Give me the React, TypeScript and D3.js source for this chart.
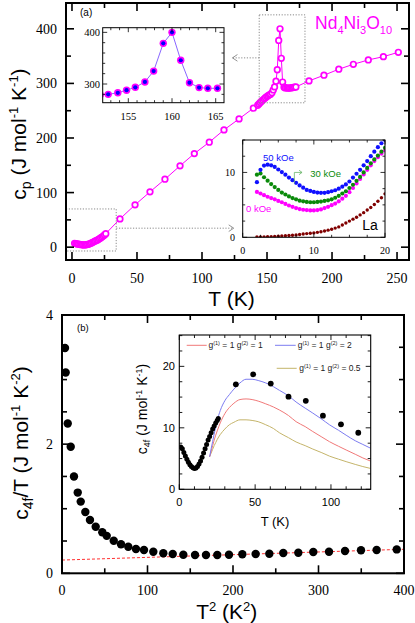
import React from 'react';
import * as d3 from 'd3';

const SANS = "'Liberation Sans', Arial, Helvetica, sans-serif";
const SERIF = "'Liberation Serif', 'Times New Roman', serif";
const MAG = '#ff00ff';

// ---- panel (a): cp of Nd4Ni3O10 (open circles) ----
const lowT = [2, 3, 4, 5, 6, 7, 8, 9, 10, 11, 12, 13, 14, 15, 16, 17, 18, 19, 20, 21, 22, 23, 24, 25, 26];
const lowCp = [7.0, 6.5, 6.0, 5.5, 5.0, 4.6, 4.3, 4.2, 4.2, 4.5, 5.0, 5.6, 6.5, 7.6, 8.8, 10.2, 11.5, 12.6, 13.6, 15.2, 16.8, 18.5, 20.4, 22.5, 24.8];
const stepT = [36.9, 48.5, 60, 71.5, 83.1, 94.1, 105.6, 116.9, 128.5, 139.5];
const stepCp = [51.8, 77.5, 101.3, 124.5, 149, 171.4, 192.3, 214.8, 235, 254.6];
const bandT = [142.8, 143.8, 144.8, 145.8, 146.8, 147.8, 148.8, 149.8, 150.8, 151.8];
const bandCp = [260, 262.5, 265, 267.3, 269.5, 271.7, 273.8, 275.8, 277.6, 279];
const peakT = [152.7, 153.8, 154.8, 155.8, 156.9, 157.9, 159, 160, 161, 162, 163.1, 164.1, 165.2];
const peakCp = [280, 283, 288, 293.6, 304, 325, 378.7, 400, 346, 302.5, 293, 291.7, 291.7];
const tailT = [166.2, 167.2, 168.2, 169.2, 170.2, 171.2, 172.2];
const tailCp = [291.5, 291.5, 291.8, 292.2, 292.6, 293, 293.5];
const highT = [182.3, 193.8, 205.2, 216.4, 227.9, 239.5, 251];
const highCp = [304.6, 315, 326, 335, 343, 349, 357];

const mainT = [...lowT, ...stepT, ...bandT, ...peakT, ...tailT, ...highT];
const mainCp = [...lowCp, ...stepCp, ...bandCp, ...peakCp, ...tailCp, ...highCp];

// ---- inset: low-T fields ----
const fieldT = [2, 2.5, 3, 3.5, 4, 4.5, 5, 5.5, 6, 6.5, 7, 7.5, 8, 8.5, 9, 9.5, 10, 10.5, 11, 11.5, 12, 12.5, 13, 13.5, 14, 14.5, 15, 15.5, 16, 16.5, 17, 17.5, 18, 18.5, 19, 19.5, 20];
const cp0kOe = [7.0, 6.75, 6.5, 6.25, 6.05, 5.85, 5.6, 5.4, 5.15, 4.9, 4.7, 4.5, 4.35, 4.25, 4.2, 4.15, 4.15, 4.2, 4.3, 4.5, 4.7, 4.95, 5.2, 5.55, 5.95, 6.4, 6.95, 7.6, 8.3, 9.0, 9.7, 10.4, 11.1, 11.75, 12.35, 12.9, 13.4];
const cp30kOe = [9.65, 9.85, 9.26, 8.73, 8.2, 7.75, 7.3, 6.9, 6.6, 6.3, 6.05, 5.85, 5.65, 5.55, 5.45, 5.4, 5.4, 5.45, 5.5, 5.6, 5.7, 5.85, 6.1, 6.4, 6.75, 7.1, 7.6, 8.1, 8.7, 9.3, 10.0, 10.7, 11.4, 12.0, 12.6, 13.2, 13.8];
const cp50kOe = [8.5, 10.4, 11.05, 11.2, 11.1, 10.85, 10.45, 10.05, 9.65, 9.2, 8.8, 8.4, 8.0, 7.65, 7.3, 7.15, 7.0, 6.9, 6.85, 6.85, 6.95, 7.1, 7.25, 7.5, 7.8, 8.15, 8.6, 9.2, 9.8, 10.4, 11.1, 11.75, 12.5, 13.2, 13.9, 14.5, 15.0];
const cpLa = [0.05, 0.06, 0.07, 0.09, 0.11, 0.13, 0.16, 0.19, 0.23, 0.27, 0.32, 0.37, 0.43, 0.5, 0.57, 0.62, 0.68, 0.76, 0.86, 0.97, 1.1, 1.25, 1.42, 1.6, 1.9, 2.2, 2.5, 2.8, 3.1, 3.45, 3.8, 4.2, 4.6, 5.05, 5.55, 6.1, 6.7];

// ---- panel (b): c4f/T vs T^2 ----
const t2 = [3.5, 4.3, 6.7, 10.2, 14, 18.4, 21.9, 27.3, 32.7, 39.4, 47.1, 52.3, 60.5, 69, 77.5, 86.5, 95.9, 106.8, 118.5, 129.5, 141.9, 155.6, 168.4, 181.6, 195.3, 210.9, 226.5, 242.5, 258.8, 276.4, 293.9, 312.3, 331, 349.7, 368, 391.5];
const c4fT = [3.49, 3.11, 2.32, 1.96, 1.5, 1.25, 1.11, 0.95, 0.825, 0.72, 0.635, 0.58, 0.505, 0.45, 0.41, 0.376, 0.36, 0.334, 0.31, 0.3, 0.288, 0.283, 0.283, 0.283, 0.288, 0.294, 0.3, 0.303, 0.314, 0.319, 0.33, 0.334, 0.345, 0.356, 0.36, 0.37];
const fitT2 = [0, 400];
const fitVal = [0.205, 0.372];

// ---- inset (b): c4f vs T ----
const denseT = [1, 2, 3, 4, 5, 6, 7, 8, 9, 10, 11, 12, 13, 14, 15, 16, 17, 18, 19, 20, 21, 22, 23, 24, 25, 25.7];
const denseC = [6.9, 6.6, 6.0, 5.4, 4.9, 4.4, 4.0, 3.7, 3.5, 3.4, 3.45, 3.7, 4.1, 4.6, 5.2, 5.9, 6.6, 7.3, 8.0, 8.6, 9.2, 9.8, 10.3, 10.8, 11.2, 11.5];
const sparseT = [37.3, 48.7, 60.3, 72, 83.4, 94.7, 106.6, 118];
const sparseC = [17.07, 18.7, 17.2, 15.06, 14.4, 11.97, 10.57, 9.2];
const modelT = [20, 21, 22, 23, 24, 25, 27, 30, 33, 36, 40, 44, 48, 52, 57, 62, 66, 72, 77, 83, 88, 94, 99, 105, 110, 116, 121, 126];
const model11 = [5.3, 6.2, 7.1, 8.0, 8.8, 9.5, 10.8, 12.3, 13.3, 14.0, 14.6, 14.7, 14.6, 14.35, 13.9, 13.4, 12.9, 12.0, 11.0, 10.2, 9.4, 8.5, 7.75, 7.0, 6.4, 5.7, 5.1, 4.6];
const model12 = [5.3, 6.6, 7.8, 9.0, 10.2, 11.2, 12.8, 14.4, 15.4, 16.3, 17.3, 17.9, 17.9, 17.7, 17.3, 16.7, 16.1, 15.2, 14.2, 13.2, 12.4, 11.4, 10.5, 9.6, 8.8, 7.9, 7.3, 6.7];
const model105 = [5.3, 5.9, 6.5, 7.1, 7.6, 8.1, 8.9, 9.8, 10.5, 10.9, 11.3, 11.3, 11.2, 11.0, 10.5, 9.9, 9.2, 8.4, 7.7, 7.1, 6.55, 5.95, 5.4, 4.9, 4.5, 4.05, 3.7, 3.4];

// tick labels
const aXLabels = [0, 50, 100, 150, 200, 250];
const aYLabels = [0, 100, 200, 300, 400];
const in1XLabels = [155, 160, 165];
const in1YLabels = [300, 400];
const in2XLabels = [0, 10, 20];
const in2YLabels = [0, 10];
const bXLabels = [0, 100, 200, 300, 400];
const bYLabels = [0, 2, 4];
const inbXLabels = [0, 50, 100];
const inbYLabels = [0, 10, 20];

type Sc = d3.ScaleLinear<number, number>;

function Frame({ x, y, xv, yv, xMaj, yMaj, big, small, w, fw }: {
  x: Sc; y: Sc; xv: number[]; yv: number[];
  xMaj: (v: number) => boolean; yMaj: (v: number) => boolean;
  big: number; small: number; w: number; fw: number;
}) {
  const [l, r] = x.range();
  const [b, t] = y.range();
  const els: JSX.Element[] = [];
  xv.forEach((v, i) => {
    const p = x(v);
    const L = xMaj(v) ? big : small;
    els.push(<line key={'xb' + i} x1={p} x2={p} y1={b} y2={b - L} />);
    els.push(<line key={'xt' + i} x1={p} x2={p} y1={t} y2={t + L} />);
  });
  yv.forEach((v, i) => {
    const p = y(v);
    const L = yMaj(v) ? big : small;
    els.push(<line key={'yl' + i} x1={l} x2={l + L} y1={p} y2={p} />);
    els.push(<line key={'yr' + i} x1={r} x2={r - L} y1={p} y2={p} />);
  });
  return (
    <g stroke="#000">
      <g strokeWidth={w}>{els}</g>
      <rect x={l} y={t} width={r - l} height={b - t} fill="none" strokeWidth={fw} />
    </g>
  );
}

function clipRect(id: string, x: Sc, y: Sc) {
  const [l, r] = x.range();
  const [b, t] = y.range();
  return (
    <clipPath id={id}>
      <rect x={l} y={t} width={r - l} height={b - t} />
    </clipPath>
  );
}

export default function App() {
  // panel (a)
  const xA = d3.scaleLinear().domain([-4.6, 259.2]).range([66, 409]);
  const yA = d3.scaleLinear().domain([-23.5, 447.3]).range([260, 3]);
  const xI1 = d3.scaleLinear().domain([152.07, 165.95]).range([102.7, 224]);
  const yI1 = d3.scaleLinear().domain([263.8, 409]).range([102.7, 27.7]);
  const xI2 = d3.scaleLinear().domain([0, 20]).range([242.7, 385]);
  const yI2 = d3.scaleLinear().domain([0, 15]).range([237.3, 140]);
  // panel (b)
  const xB = d3.scaleLinear().domain([0, 400]).range([62, 404]);
  const yB = d3.scaleLinear().domain([0, 4]).range([573.3, 315]);
  const xIb = d3.scaleLinear().domain([0, 126.2]).range([179.3, 370.7]);
  const yIb = d3.scaleLinear().domain([0, 25.1]).range([489.3, 335]);

  const mainPts = mainT.map((t, i) => [t, mainCp[i]] as [number, number]);
  const lineA = d3.line<[number, number]>().x(d => xA(d[0])).y(d => yA(d[1]));
  const inPts = mainPts.filter(d => d[0] > 151 && d[0] < 166);
  const lineI1 = d3.line<[number, number]>().x(d => xI1(d[0])).y(d => yI1(d[1]));

  const fieldSeries = [
    { v: cp0kOe, c: MAG, r: 2.1 },
    { v: cp30kOe, c: '#0a8a0a', r: 2.1 },
    { v: cp50kOe, c: '#1010ff', r: 2.1 },
  ];

  const lineB = d3.line<number>().x((d, i) => xB(fitT2[i])).y(d => yB(d));
  const modelLine = (vals: number[]) =>
    d3.line<number>().x((d, i) => xIb(modelT[i])).y(d => yIb(d)).curve(d3.curveMonotoneX)(vals) || '';

  const dotted = { stroke: '#8a8a8a', strokeWidth: 1, strokeDasharray: '1.2,1.6', fill: 'none' };

  return (
    <svg width={415} height={623} style={{ position: 'absolute', left: 0, top: 0, background: '#fff' }}>
      <defs>
        {clipRect('cA', xA, yA)}
        {clipRect('cI1', xI1, yI1)}
        {clipRect('cI2', xI2, yI2)}
        {clipRect('cB', xB, yB)}
        {clipRect('cIb', xIb, yIb)}
      </defs>

      {/* ===== panel (a) ===== */}
      <g clipPath="url(#cA)">
        <path d={lineA(mainPts) || ''} fill="none" stroke={MAG} strokeWidth={1} />
        {mainPts.map((d, i) => (
          <circle key={i} cx={xA(d[0])} cy={yA(d[1])} r={2.8} fill="#fff" stroke={MAG} strokeWidth={1.7} />
        ))}
      </g>
      {/* dotted boxes and arrows */}
      <rect x={xA(-4.6)} y={yA(70)} width={xA(34) - xA(-4.6)} height={yA(-7) - yA(70)} {...dotted} />
      <line x1={xA(34)} x2={xA(124.4)} y1={yA(34.8)} y2={yA(34.8)} {...dotted} />
      <polyline points={`${xA(124.4) - 5},${yA(34.8) - 3.3} ${xA(124.4)},${yA(34.8)} ${xA(124.4) - 5},${yA(34.8) + 3.3}`} fill="none" stroke="#777" strokeWidth={0.8} />
      <rect x={xA(144)} y={yA(425.6)} width={xA(179.2) - xA(144)} height={yA(264.5) - yA(425.6)} {...dotted} />
      <line x1={xA(144)} x2={xA(123.4)} y1={yA(346.8)} y2={yA(346.8)} {...dotted} />
      <polyline points={`${xA(123.4) + 5},${yA(346.8) - 3.3} ${xA(123.4)},${yA(346.8)} ${xA(123.4) + 5},${yA(346.8) + 3.3}`} fill="none" stroke="#777" strokeWidth={0.8} />

      <Frame x={xA} y={yA} xv={d3.range(0, 251, 25)} yv={d3.range(0, 401, 50)}
        xMaj={v => v % 50 === 0} yMaj={v => v % 100 === 0} big={8} small={5} w={1.6} fw={2} />
      <g fontFamily={SERIF} fontSize={14} fill="#000">
        {aXLabels.map(v => <text key={v} x={xA(v)} y={283} textAnchor="middle">{v}</text>)}
        {aYLabels.map(v => <text key={v} x={57} y={yA(v) + 5} textAnchor="end">{v}</text>)}
      </g>
      <text x={80} y={16} fontFamily={SANS} fontSize={10}>(a)</text>
      <text x={315} y={29} fontFamily={SANS} fontSize={17.5} fill={MAG}>
        Nd<tspan fontSize={11} dy={5}>4</tspan><tspan dy={-5}>Ni</tspan><tspan fontSize={11} dy={5}>3</tspan><tspan dy={-5}>O</tspan><tspan fontSize={11} dy={5}>10</tspan>
      </text>
      <text x={231.5} y={306} fontFamily={SANS} fontSize={21} textAnchor="middle">T (K)</text>
      <text transform="translate(26,134) rotate(-90)" fontFamily={SANS} fontSize={21} textAnchor="middle">
        c<tspan fontSize={14} dy={5}>p</tspan><tspan dy={-5}> (J mol</tspan><tspan fontSize={13} dy={-8}>-1</tspan><tspan dy={8}> K</tspan><tspan fontSize={13} dy={-8}>-1</tspan><tspan dy={8}>)</tspan>
      </text>

      {/* inset 1: peak */}
      <rect x={102.7} y={27.7} width={121.3} height={75} fill="#fff" />
      <g clipPath="url(#cI1)">
        <path d={lineI1(inPts) || ''} fill="none" stroke="#8866ff" strokeWidth={1} />
        {inPts.map((d, i) => (
          <g key={i}>
            <circle cx={xI1(d[0])} cy={yI1(d[1])} r={3.7} fill={MAG} />
            <circle cx={xI1(d[0])} cy={yI1(d[1])} r={2.1} fill="#0000ff" />
          </g>
        ))}
      </g>
      <Frame x={xI1} y={yI1} xv={d3.range(153, 166, 1)} yv={d3.range(280, 401, 20)}
        xMaj={v => v % 5 === 0} yMaj={v => v % 100 === 0} big={4.5} small={2.5} w={0.8} fw={1} />
      <g fontFamily={SERIF} fontSize={10.5} fill="#000">
        {in1XLabels.map(v => <text key={v} x={xI1(v)} y={119.5} textAnchor="middle">{v}</text>)}
        {in1YLabels.map(v => <text key={v} x={100} y={yI1(v) + 3.6} textAnchor="end">{v}</text>)}
      </g>

      {/* inset 2: low-T fields */}
      <rect x={242.7} y={140} width={142.3} height={97.3} fill="#fff" />
      <g clipPath="url(#cI2)">
        {fieldT.map((t, i) => (
          <circle key={'la' + i} cx={xI2(t)} cy={yI2(cpLa[i])} r={1.7} fill="#800000" />
        ))}
        {fieldSeries.map((s, k) => (
          <g key={k}>
            {fieldT.map((t, i) => (
              <circle key={i} cx={xI2(t)} cy={yI2(s.v[i])} r={s.r} fill={s.c} />
            ))}
          </g>
        ))}
      </g>
      <Frame x={xI2} y={yI2} xv={d3.range(0, 20.01, 2.5)} yv={d3.range(0, 15.01, 2.5)}
        xMaj={v => v % 10 === 0} yMaj={v => v % 10 === 0} big={4.5} small={2.5} w={0.8} fw={1} />
      <g fontFamily={SERIF} fontSize={10} fill="#000">
        {in2XLabels.map(v => <text key={v} x={xI2(v)} y={253.5} textAnchor="middle">{v}</text>)}
        {in2YLabels.map(v => <text key={v} x={235} y={yI2(v) + 3.5} textAnchor="end">{v}</text>)}
      </g>
      <polyline points={`${xI2(7.26)},${yI2(8.3)} ${xI2(7.26)},${yI2(10)} ${xI2(8.34)},${yI2(10)}`} fill="none" stroke="#6ab56a" strokeWidth={0.8} />
      <polyline points={`${xI2(8.34) - 3},${yI2(10) - 2.2} ${xI2(8.34)},${yI2(10)} ${xI2(8.34) - 3},${yI2(10) + 2.2}`} fill="none" stroke="#6ab56a" strokeWidth={0.8} />
      <g fontFamily={SANS} fontSize={9.5}>
        <text x={xI2(2.86)} y={yI2(11.76)} fill="#1010ff">50 kOe</text>
        <text x={xI2(9.5)} y={yI2(9.3)} fill="#0a8a0a">30 kOe</text>
        <text x={xI2(0.46)} y={yI2(3.9)} fill={MAG}>0 kOe</text>
      </g>
      <text x={xI2(16.8)} y={yI2(1.1)} fontFamily={SANS} fontSize={14} fill="#000">La</text>

      {/* ===== panel (b) ===== */}
      <g clipPath="url(#cB)">
        <path d={lineB(fitVal) || ''} fill="none" stroke="#ff3030" strokeWidth={1} strokeDasharray="3,2" />
        {t2.map((t, i) => (
          <circle key={i} cx={xB(t)} cy={yB(c4fT[i])} r={4.2} fill="#000" />
        ))}
      </g>
      <Frame x={xB} y={yB} xv={d3.range(0, 401, 50)} yv={d3.range(0, 4.01, 0.5)}
        xMaj={v => v % 100 === 0} yMaj={v => Math.abs(v % 2) < 1e-9} big={8} small={5} w={1.6} fw={2} />
      <g fontFamily={SERIF} fontSize={14} fill="#000">
        {bXLabels.map(v => <text key={v} x={xB(v)} y={595} textAnchor="middle">{v}</text>)}
        {bYLabels.map(v => <text key={v} x={53} y={yB(v) + 5} textAnchor="end">{v}</text>)}
      </g>
      <text x={77} y={331} fontFamily={SANS} fontSize={9.5}>(b)</text>
      <text x={226.7} y={619} fontFamily={SANS} fontSize={21} textAnchor="middle">
        T<tspan fontSize={13} dy={-8}>2</tspan><tspan dy={8}> (K</tspan><tspan fontSize={13} dy={-8}>2</tspan><tspan dy={8}>)</tspan>
      </text>
      <text transform="translate(28,443) rotate(-90)" fontFamily={SANS} fontSize={21} textAnchor="middle">
        c<tspan fontSize={14} dy={5}>4f</tspan><tspan dy={-5}>/T (J mol</tspan><tspan fontSize={13} dy={-8}>-1</tspan><tspan dy={8}> K</tspan><tspan fontSize={13} dy={-8}>-2</tspan><tspan dy={8}>)</tspan>
      </text>

      {/* inset (b) */}
      <rect x={179.3} y={335} width={191.4} height={154.3} fill="#fff" />
      <g clipPath="url(#cIb)">
        <path d={modelLine(model105)} fill="none" stroke="#c4b46a" strokeWidth={1} />
        <path d={modelLine(model11)} fill="none" stroke="#f07878" strokeWidth={1} />
        <path d={modelLine(model12)} fill="none" stroke="#7c7cf0" strokeWidth={1} />
        {denseT.map((t, i) => (
          <circle key={'d' + i} cx={xIb(t)} cy={yIb(denseC[i])} r={2.5} fill="#000" />
        ))}
        {sparseT.map((t, i) => (
          <circle key={'s' + i} cx={xIb(t)} cy={yIb(sparseC[i])} r={2.9} fill="#000" />
        ))}
      </g>
      <Frame x={xIb} y={yIb} xv={d3.range(0, 126, 10)} yv={d3.range(0, 25.01, 2.5)}
        xMaj={v => v % 50 === 0} yMaj={v => v % 10 === 0} big={5} small={3} w={0.9} fw={1.1} />
      <g fontFamily={SANS} fontSize={11} fill="#000">
        {inbXLabels.map(v => <text key={v} x={xIb(v)} y={506} textAnchor="middle">{v}</text>)}
        {inbYLabels.map(v => <text key={v} x={175} y={yIb(v) + 4} textAnchor="end">{v}</text>)}
      </g>
      <text x={275} y={526} fontFamily={SANS} fontSize={13} textAnchor="middle">T (K)</text>
      <text transform="translate(147,409) rotate(-90)" fontFamily={SANS} fontSize={14} textAnchor="middle">
        c<tspan fontSize={9} dy={3}>4f</tspan><tspan dy={-3}> (J mol</tspan><tspan fontSize={9} dy={-5}>-1</tspan><tspan dy={5}> K</tspan><tspan fontSize={9} dy={-5}>-1</tspan><tspan dy={5}>)</tspan>
      </text>
      {/* legend */}
      <g fontFamily={SANS} fontSize={8.5} fill="#222">
        <line x1={186.7} x2={206.7} y1={345.3} y2={345.3} stroke="#f07878" />
        <text x={208.5} y={348.3}>g<tspan fontSize={5.5} dy={-3}>(1)</tspan><tspan dy={3}> = 1 g</tspan><tspan fontSize={5.5} dy={-3}>(2)</tspan><tspan dy={3}> = 1</tspan></text>
        <line x1={275} x2={295.7} y1={345.3} y2={345.3} stroke="#7c7cf0" />
        <text x={297.7} y={348.3}>g<tspan fontSize={5.5} dy={-3}>(1)</tspan><tspan dy={3}> = 1 g</tspan><tspan fontSize={5.5} dy={-3}>(2)</tspan><tspan dy={3}> = 2</tspan></text>
        <line x1={276.7} x2={296.7} y1={368.3} y2={368.3} stroke="#c4b46a" />
        <text x={299.3} y={371.3}>g<tspan fontSize={5.5} dy={-3}>(1)</tspan><tspan dy={3}> = 1 g</tspan><tspan fontSize={5.5} dy={-3}>(2)</tspan><tspan dy={3}> = 0.5</tspan></text>
      </g>
    </svg>
  );
}
